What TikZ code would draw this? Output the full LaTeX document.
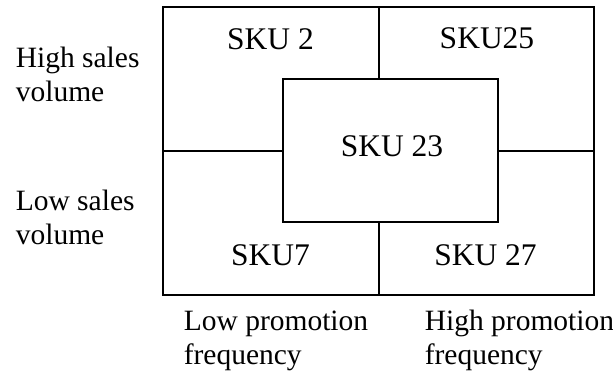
\documentclass[tikz,border=0pt]{standalone}
\usepackage{fontspec}
\setmainfont{Liberation Serif}
\begin{document}
\begin{tikzpicture}[x=1pt,y=-1pt,line width=1.6pt,
  sku/.style={font=\fontsize{31.5}{36}\selectfont,inner sep=0pt,anchor=base},
  axis/.style={font=\fontsize{29.5}{34}\selectfont,inner sep=0pt,align=left,anchor=base west}]
\useasboundingbox (0,0) rectangle (613,375);
\draw (163,7) rectangle (594,295);
\draw (379,7) -- (379,295);
\draw (163,151) -- (594,151);
\filldraw[fill=white] (283,79) rectangle (498,222);
\node[sku] (s2) at (270.5,49) {SKU 2};
\node[sku] (s25) at (487,48) {SKU25};
\node[sku] (s23) at (392,156) {SKU 23};
\node[sku] (s7) at (270.5,265) {SKU7};
\node[sku] (s27) at (485.5,265) {SKU 27};
\node[axis] (hs) at (15,101) {High sales\\volume};
\node[axis] (ls) at (15,244) {Low sales\\volume};
\node[axis] (lp) at (183,364) {Low promotion\\frequency};
\node[axis] (hp) at (424,364) {High promotion\\frequency};
\end{tikzpicture}
\end{document}
